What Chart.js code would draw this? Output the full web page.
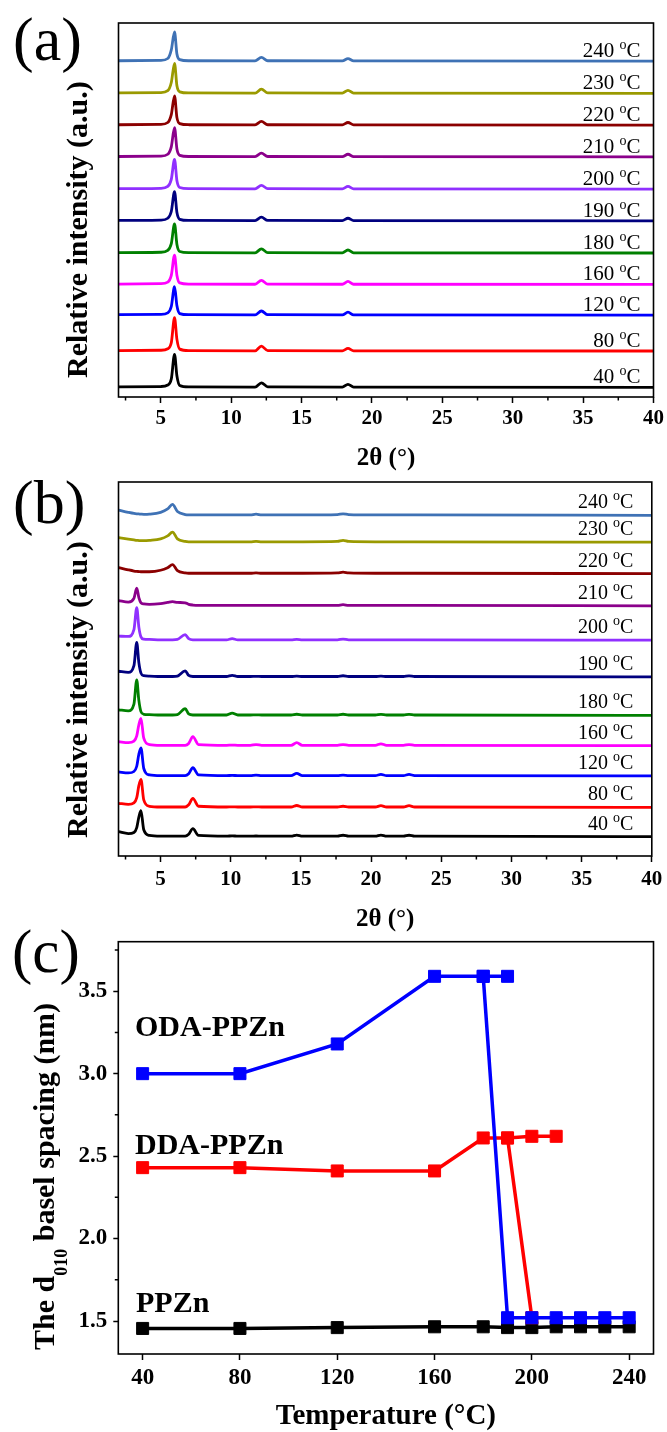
<!DOCTYPE html>
<html>
<head>
<meta charset="utf-8">
<script src="https://cdn.jsdelivr.net/npm/chart.js@4.4.1/dist/chart.umd.min.js"></script>
<style>
html, body { margin: 0; padding: 0; background: #fff; overflow: hidden; }
#wrap { position: relative; width: 667px; height: 1432px; overflow: hidden; }
canvas { position: absolute; left: 0; }
</style>
</head>
<body>
<div id="wrap">
  <canvas id="chartA" width="667" height="476" style="top:0px"></canvas>
  <canvas id="chartB" width="667" height="468" style="top:476px"></canvas>
  <canvas id="chartC" width="667" height="532" style="top:900px"></canvas>
</div>
<script>
var family = "'Liberation Serif', 'Times New Roman', serif";

// (a) and (b): heating temperatures, bottom curve to top curve
var temps = [40, 80, 120, 160, 180, 190, 200, 210, 220, 230, 240];
var tempColours = ['#000000', '#ff0000', '#0000ff', '#ff00ff', '#008000', '#00007f',
                   '#9030ff', '#8b008b', '#8b0000', '#9a9a00', '#3f72b5'];

// (a) 2θ points, stacking offsets and intensity above each baseline
var thetaA = [2, 5.0, 5.5, 5.75, 5.98, 6.15, 6.35, 7.0, 11.7, 12.15, 12.6, 17.9, 18.3, 18.7, 40];
var offsetA = [2.6, 12.3, 21.9, 30.1, 38.5, 47.1, 55.6, 64.2, 72.7, 81.2, 89.8];
var intensityA = [
  [0.1, 0.2, 0.6, 2.2, 8.8, 3.0, 0.5, 0.1, 0.05, 1.2, 0.1, 0.05, 0.8, 0.05, 0],
  [0.1, 0.2, 0.6, 2.2, 8.9, 3.1, 0.5, 0.1, 0.05, 1.3, 0.1, 0.05, 0.7, 0.05, 0],
  [0.1, 0.2, 0.6, 2.3, 7.6, 2.5, 0.4, 0.1, 0.05, 1.1, 0.1, 0.05, 0.8, 0.05, 0],
  [0.1, 0.2, 0.6, 2.4, 7.8, 2.4, 0.4, 0.1, 0.05, 1.1, 0.1, 0.05, 0.8, 0.05, 0],
  [0.1, 0.2, 0.7, 2.5, 7.8, 2.3, 0.4, 0.1, 0.05, 1.1, 0.1, 0.05, 0.8, 0.05, 0],
  [0.1, 0.2, 0.7, 2.5, 7.8, 2.2, 0.4, 0.1, 0.05, 1.0, 0.1, 0.05, 0.7, 0.05, 0],
  [0.1, 0.2, 0.7, 2.6, 7.9, 2.2, 0.4, 0.1, 0.05, 1.0, 0.1, 0.05, 0.7, 0.05, 0],
  [0.1, 0.2, 0.7, 2.7, 7.8, 2.1, 0.4, 0.1, 0.05, 1.0, 0.1, 0.05, 0.7, 0.05, 0],
  [0.1, 0.2, 0.7, 2.8, 7.8, 2.0, 0.4, 0.1, 0.05, 1.0, 0.1, 0.05, 0.7, 0.05, 0],
  [0.1, 0.2, 0.7, 2.9, 8.0, 2.0, 0.4, 0.1, 0.05, 1.1, 0.1, 0.05, 0.8, 0.05, 0],
  [0.1, 0.2, 0.7, 3.0, 7.8, 1.9, 0.4, 0.1, 0.05, 1.0, 0.1, 0.05, 0.7, 0.05, 0]
];

// (b)
var thetaB = [2, 2.7, 3.1, 3.3, 3.45, 3.6, 3.8, 4.2, 5.0, 5.5, 5.85, 6.2, 6.75, 7.0, 7.3, 7.7,
              9.7, 10.1, 10.5, 11.4, 11.8, 12.2, 14.3, 14.7, 15.1, 17.6, 18.0, 18.4,
              20.3, 20.7, 21.1, 22.3, 22.7, 23.1, 40];
var offsetB = [5.2, 13.0, 21.4, 29.5, 37.6, 47.9, 57.7, 66.9, 75.5, 83.9, 91.1];
var intensityB = [
  [1.3, 0.8, 1.1, 2.4, 5.2, 6.9, 1.8, 0.3, 0.1, 0.1, 0.1, 0.1, 0.1, 0.6, 2.1, 0.3,
   0.1, 0.2, 0.1, 0.1, 0.15, 0.1, 0.1, 0.4, 0.1, 0.1, 0.35, 0.1, 0.1, 0.4, 0.1, 0.1, 0.35, 0.1, 0],
  [1.1, 0.8, 1.2, 2.6, 5.8, 7.5, 2.0, 0.3, 0.1, 0.1, 0.1, 0.1, 0.1, 0.7, 2.4, 0.3,
   0.1, 0.15, 0.1, 0.1, 0.15, 0.1, 0.1, 0.5, 0.1, 0.1, 0.3, 0.1, 0.1, 0.45, 0.1, 0.1, 0.45, 0.1, 0],
  [1.1, 0.8, 1.2, 2.6, 5.8, 7.5, 2.0, 0.3, 0.1, 0.1, 0.1, 0.1, 0.1, 0.6, 2.2, 0.3,
   0.1, 0.15, 0.1, 0.1, 0.25, 0.1, 0.1, 0.7, 0.1, 0.1, 0.2, 0.1, 0.1, 0.4, 0.1, 0.1, 0.4, 0.1, 0],
  [1.1, 0.8, 1.2, 2.6, 5.6, 7.3, 2.0, 0.3, 0.1, 0.1, 0.1, 0.1, 0.1, 0.6, 2.4, 0.3,
   0.1, 0.15, 0.1, 0.1, 0.3, 0.1, 0.1, 0.8, 0.1, 0.1, 0.3, 0.1, 0.1, 0.5, 0.1, 0.1, 0.3, 0.1, 0],
  [1.5, 1.2, 3.0, 9.5, 4.0, 1.0, 0.3, 0.2, 0.1, 0.1, 0.1, 0.2, 1.8, 0.4, 0.1, 0.1,
   0.1, 0.6, 0.1, 0.1, 0.15, 0.1, 0.1, 0.3, 0.1, 0.1, 0.3, 0.1, 0.1, 0.25, 0.1, 0.1, 0.25, 0.1, 0],
  [1.5, 1.2, 3.0, 9.2, 3.8, 1.0, 0.3, 0.2, 0.1, 0.1, 0.1, 0.2, 1.6, 0.4, 0.1, 0.1,
   0.1, 0.4, 0.1, 0.1, 0.15, 0.1, 0.1, 0.2, 0.1, 0.1, 0.3, 0.1, 0.1, 0.2, 0.1, 0.1, 0.25, 0.1, 0],
  [1.1, 1.0, 2.8, 8.7, 3.5, 0.9, 0.3, 0.2, 0.1, 0.1, 0.1, 0.2, 1.5, 0.4, 0.1, 0.1,
   0.1, 0.4, 0.1, 0.1, 0.1, 0.1, 0.1, 0.2, 0.1, 0.1, 0.3, 0.1, 0.1, 0.1, 0.1, 0.1, 0.1, 0.1, 0],
  [1.4, 1.0, 2.0, 4.7, 2.2, 0.8, 0.5, 0.4, 0.6, 0.9, 1.1, 0.9, 0.8, 0.4, 0.2, 0.1,
   0.1, 0.1, 0.1, 0.1, 0.1, 0.1, 0.1, 0.1, 0.1, 0.1, 0.3, 0.1, 0.1, 0.1, 0.1, 0.1, 0.1, 0.1, 0],
  [1.6, 1.0, 0.7, 0.6, 0.55, 0.5, 0.5, 0.5, 0.9, 1.6, 2.4, 0.8, 0.2, 0.1, 0.1, 0.1,
   0.1, 0.1, 0.1, 0.1, 0.2, 0.1, 0.1, 0.1, 0.1, 0.2, 0.4, 0.2, 0.1, 0.1, 0.1, 0.1, 0.1, 0.1, 0],
  [1.2, 0.8, 0.6, 0.5, 0.45, 0.4, 0.4, 0.5, 0.9, 1.7, 2.7, 0.9, 0.2, 0.1, 0.1, 0.1,
   0.1, 0.1, 0.1, 0.1, 0.2, 0.1, 0.1, 0.1, 0.1, 0.2, 0.5, 0.2, 0.1, 0.1, 0.1, 0.1, 0.1, 0.1, 0],
  [1.4, 0.8, 0.5, 0.4, 0.35, 0.3, 0.25, 0.3, 0.8, 1.7, 2.9, 1.0, 0.2, 0.1, 0.1, 0.1,
   0.1, 0.1, 0.1, 0.1, 0.3, 0.1, 0.1, 0.1, 0.1, 0.2, 0.4, 0.2, 0.1, 0.1, 0.1, 0.1, 0.1, 0.1, 0]
];

var xTicksAB = [5, 10, 15, 20, 25, 30, 35, 40];
var xMinorAB = [2.5, 7.5, 12.5, 17.5, 22.5, 27.5, 32.5, 37.5];

// (c) d010 basel spacing (nm) against temperature
var tempC = [40, 80, 120, 160, 180, 190, 200, 210, 220, 230, 240];
var ppzn = [1.455, 1.455, 1.46, 1.465, 1.465, 1.46, 1.46, 1.465, 1.465, 1.465, 1.465];
var odaT = [40, 80, 120, 160, 180, 190, 200, 210, 220, 230, 240];
var oda = [3.00, 3.00, 3.18, 3.59, 3.59, 1.52, 1.52, 1.52, 1.52, 1.52, 1.52];
var odaHighT = [180, 190];
var odaHigh = [3.59, 3.59];
var ddaT = [40, 80, 120, 160, 180, 190, 200];
var dda = [2.43, 2.43, 2.41, 2.41, 2.61, 2.61, 1.52];
var ddaHighT = [190, 200, 210];
var ddaHigh = [2.61, 2.62, 2.62];
var xTicksC = [40, 80, 120, 160, 200, 240];
var yTicksC = [1.5, 2.0, 2.5, 3.0, 3.5];
var yMinorC = [1.75, 2.25, 2.75, 3.25, 3.75];

function pts(xs, ys) {
  return xs.map(function(x, i) { return {x: x, y: ys[i]}; });
}

function fontStr(p) {
  return (p.weight || 'normal') + ' ' + p.size + 'px ' + family;
}

// draw a run of text pieces (for superscripts / subscripts) from the current origin
function drawParts(ctx, parts, align) {
  var total = 0;
  parts.forEach(function(p) { ctx.font = fontStr(p); total += ctx.measureText(p.text).width; });
  var cx = align === 'right' ? -total : (align === 'center' ? -total / 2 : 0);
  parts.forEach(function(p) {
    ctx.font = fontStr(p);
    ctx.fillText(p.text, cx, p.dy || 0);
    cx += ctx.measureText(p.text).width;
  });
}

var figText = {
  id: 'figText',
  afterDraw: function(chart, args, opts) {
    var ctx = chart.ctx, area = chart.chartArea, sx = chart.scales.x, sy = chart.scales.y;
    ctx.save();
    ctx.fillStyle = '#000';
    ctx.strokeStyle = '#000';
    ctx.textAlign = 'left';
    ctx.textBaseline = 'alphabetic';

    ctx.lineWidth = 1.6;
    ctx.strokeRect(area.left, area.top, area.right - area.left, area.bottom - area.top);

    ctx.lineWidth = 1.5;
    ctx.beginPath();
    (opts.minorX || []).forEach(function(v) {
      var px = sx.getPixelForValue(v);
      ctx.moveTo(px, area.bottom); ctx.lineTo(px, area.bottom + 3.5);
    });
    (opts.minorY || []).forEach(function(v) {
      var py = sy.getPixelForValue(v);
      ctx.moveTo(area.left - 3.5, py); ctx.lineTo(area.left, py);
    });
    ctx.stroke();

    (opts.items || []).forEach(function(it) {
      ctx.save();
      ctx.translate(it.x, it.y);
      if (it.rotate) ctx.rotate(it.rotate);
      drawParts(ctx, it.parts, it.align || 'left');
      ctx.restore();
    });

    if (opts.temps) {
      var t = opts.temps;
      t.offsets.forEach(function(off, i) {
        ctx.save();
        ctx.translate(area.right - t.inset, sy.getPixelForValue(off) - t.lift);
        drawParts(ctx, [
          {text: temps[i] + ' ', size: t.size},
          {text: 'o', size: t.sup, dy: -t.raise},
          {text: 'C', size: t.size}
        ], 'right');
        ctx.restore();
      });
    }
    ctx.restore();
  }
};

function xrdChart(id, theta, offsets, intensity, lay) {
  var datasets = temps.map(function(tc, i) {
    return {
      label: tc + ' °C',
      data: theta.map(function(t, j) { return {x: t, y: offsets[i] + intensity[i][j]}; }),
      borderColor: tempColours[i],
      borderWidth: 2.8,
      pointRadius: 0,
      cubicInterpolationMode: 'monotone',
      fill: false
    };
  });

  return new Chart(document.getElementById(id), {
    type: 'line',
    data: {datasets: datasets},
    plugins: [figText],
    options: {
      responsive: false,
      animation: false,
      events: [],
      layout: {padding: {top: lay.top, right: 12.5, left: 0, bottom: 0}},
      plugins: {
        legend: {display: false},
        tooltip: {enabled: false},
        figText: {
          minorX: xMinorAB,
          items: [
            {x: 13, y: lay.letterY, parts: [{text: lay.letter, size: 62}]},
            {x: 87, y: lay.titleStart, rotate: -Math.PI / 2,
             parts: [{text: 'Relative intensity (a.u.)', size: 30, weight: 'bold'}]}
          ],
          temps: {offsets: offsets, inset: lay.inset, lift: lay.lift, size: lay.labelSize, sup: 14, raise: 8}
        }
      },
      scales: {
        x: {
          type: 'linear', min: 2, max: 40,
          afterBuildTicks: function(s) { s.ticks = xTicksAB.map(function(v) { return {value: v}; }); },
          afterFit: function(s) { s.height = lay.xHeight; },
          border: {display: false},
          grid: {display: true, drawOnChartArea: false, drawTicks: true, tickLength: 6, tickWidth: 1.5, tickColor: '#000'},
          ticks: {color: '#000', font: {family: family, size: 21, weight: 'bold'}, padding: lay.tickPad,
                  maxRotation: 0, autoSkip: false},
          title: {display: true, text: '2θ (°)', color: '#000',
                  font: {family: family, size: 25, weight: 'bold', lineHeight: 1},
                  padding: {top: 0, bottom: lay.titlePad}}
        },
        y: {
          min: 0, max: 100,
          afterFit: function(s) { s.width = 118.5; },
          border: {display: false},
          grid: {display: false},
          ticks: {display: false}
        }
      }
    }
  });
}

xrdChart('chartA', thetaA, offsetA, intensityA,
  {top: 23, xHeight: 79, tickPad: 3, titlePad: 5.2, letter: '(a)', letterY: 60,
   titleStart: 378, inset: 13, lift: 4, labelSize: 21});

xrdChart('chartB', thetaB, offsetB, intensityB,
  {top: 6, xHeight: 88, tickPad: 4.7, titlePad: 11.5, letter: '(b)', letterY: 47,
   titleStart: 362, inset: 18.5, lift: 7, labelSize: 20});

var lineStyle = function(colour) {
  return {
    borderColor: colour, backgroundColor: colour, borderWidth: 3.5,
    pointStyle: 'rect', pointRadius: 8.5, pointBorderWidth: 1,
    pointBackgroundColor: colour, pointBorderColor: colour, fill: false, tension: 0
  };
};

new Chart(document.getElementById('chartC'), {
  type: 'line',
  data: {
    datasets: [
      Object.assign({label: 'ODA-PPZn', data: pts(odaT, oda)}, lineStyle('#0000ff')),
      Object.assign({label: 'ODA-PPZn', data: pts(odaHighT, odaHigh)}, lineStyle('#0000ff')),
      Object.assign({label: 'DDA-PPZn', data: pts(ddaT, dda)}, lineStyle('#ff0000')),
      Object.assign({label: 'DDA-PPZn', data: pts(ddaHighT, ddaHigh)}, lineStyle('#ff0000')),
      Object.assign({label: 'PPZn', data: pts(tempC, ppzn)}, lineStyle('#000000'))
    ]
  },
  plugins: [figText],
  options: {
    responsive: false,
    animation: false,
    events: [],
    layout: {padding: {top: 41.7, right: 13.5, left: 0, bottom: 0}},
    plugins: {
      legend: {display: false},
      tooltip: {enabled: false},
      figText: {
        minorY: yMinorC,
        items: [
          {x: 12, y: 72, parts: [{text: '(c)', size: 61}]},
          {x: 54, y: 450, rotate: -Math.PI / 2, parts: [
            {text: 'The d', size: 30, weight: 'bold'},
            {text: '010', size: 18, weight: 'bold', dy: 12.5},
            {text: ' basel spacing (nm)', size: 30, weight: 'bold'}
          ]},
          {x: 135, y: 136, parts: [{text: 'ODA-PPZn', size: 30, weight: 'bold'}]},
          {x: 135, y: 254, parts: [{text: 'DDA-PPZn', size: 30, weight: 'bold'}]},
          {x: 136, y: 411.5, parts: [{text: 'PPZn', size: 30, weight: 'bold'}]}
        ]
      }
    },
    scales: {
      x: {
        type: 'linear', min: 30, max: 250,
        afterBuildTicks: function(s) { s.ticks = xTicksC.map(function(v) { return {value: v}; }); },
        afterFit: function(s) { s.height = 78; },
        border: {display: false},
        grid: {display: true, drawOnChartArea: false, drawTicks: true, tickLength: 6, tickWidth: 1.5, tickColor: '#000'},
        ticks: {color: '#000', font: {family: family, size: 23, weight: 'bold'}, padding: 4,
                maxRotation: 0, autoSkip: false},
        title: {display: true, text: 'Temperature (°C)', color: '#000',
                font: {family: family, size: 29, weight: 'bold', lineHeight: 1},
                padding: {top: 0, bottom: 0.5}}
      },
      y: {
        min: 1.3, max: 3.8,
        afterBuildTicks: function(s) { s.ticks = yTicksC.map(function(v) { return {value: v}; }); },
        afterFit: function(s) { s.width = 118.3; },
        border: {display: false},
        grid: {display: true, drawOnChartArea: false, drawTicks: true, tickLength: 5, tickWidth: 1.5, tickColor: '#000'},
        ticks: {color: '#000', font: {family: family, size: 23, weight: 'bold'}, padding: 6,
                callback: function(v) { return v.toFixed(1); }}
      }
    }
  }
});
</script>
</body>
</html>
